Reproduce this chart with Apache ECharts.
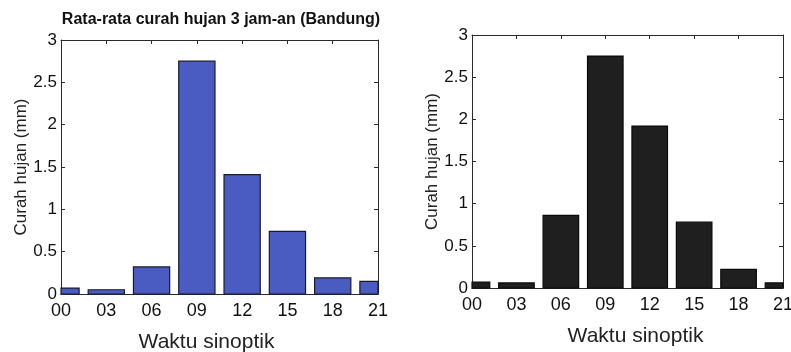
<!DOCTYPE html>
<html>
<head>
<meta charset="utf-8">
<script src="https://cdn.jsdelivr.net/npm/echarts@6/dist/echarts.min.js"></script>
<style>
html,body{margin:0;padding:0;background:#fff;}
#c{width:791px;height:352px;}
</style>
</head>
<body>
<div id="c"></div>
<script>
// Data
var categories = ['00','03','06','09','12','15','18','21'];
var bandungValues = [0.07, 0.05, 0.32, 2.75, 1.41, 0.74, 0.19, 0.15];
var secondValues  = [0.07, 0.06, 0.86, 2.75, 1.92, 0.78, 0.22, 0.06];
var yTicks = [0, 0.5, 1, 1.5, 2, 2.5, 3];
var titleText = 'Rata-rata curah hujan 3 jam-an (Bandung)';
var xName = 'Waktu sinoptik';
var yName = 'Curah hujan (mm)';

var hours = categories.map(function(c){ return parseInt(c, 10); });
function pairs(vals){ return hours.map(function(h, i){ return [h, vals[i]]; }); }
function xLabel(v){ var i = hours.indexOf(v); return i >= 0 ? categories[i] : ''; }
function yLabel(v){ return yTicks.indexOf(v) >= 0 ? String(v) : ''; }

var FONT = 'Liberation Sans, Arial, sans-serif';
var axisColor = '#2a2a2a';
var BAR_UNITS = 2.4; // bar width in axis units (0.8 of the 3-hour spacing)

function renderBar(params, api){
  var x = api.value(0), y = api.value(1);
  var p0 = api.coord([x, 0]);
  var p1 = api.coord([x, y]);
  var w = api.size([BAR_UNITS, 0])[0];
  var cs = params.coordSys;
  var rect = {x: p0[0] - w / 2, y: p1[1], width: w, height: p0[1] - p1[1]};
  var clipped = echarts.graphic.clipRectByRect(rect, {x: cs.x, y: cs.y, width: cs.width, height: cs.height});
  if (!clipped) return null;
  return {type: 'rect', shape: clipped, style: api.style()};
}

function xAxisPair(gridIndex, nameGap, pad, labelMargin){
  return [{
    gridIndex: gridIndex, type: 'value', min: 0, max: 21, interval: 3, position: 'bottom',
    name: xName, nameLocation: 'middle', nameGap: nameGap,
    nameTextStyle: {fontFamily: FONT, fontSize: 21, color: '#222', padding: pad},
    axisLine: {show: true, onZero: false, lineStyle: {color: axisColor, width: 1}},
    axisTick: {show: true, inside: true, length: 4, lineStyle: {color: axisColor}},
    axisLabel: {formatter: xLabel, fontFamily: FONT, fontSize: 18, color: '#111', margin: labelMargin},
    splitLine: {show: false}
  },{
    gridIndex: gridIndex, type: 'value', min: 0, max: 21, interval: 3, position: 'top',
    axisLine: {show: true, onZero: false, lineStyle: {color: axisColor, width: 1}},
    axisTick: {show: true, inside: true, length: 4, lineStyle: {color: axisColor}},
    axisLabel: {show: false}, splitLine: {show: false}
  }];
}
function yAxisPair(gridIndex, nameGap){
  return [{
    gridIndex: gridIndex, type: 'value', min: 0, max: 3, interval: 0.5, position: 'left',
    name: yName, nameLocation: 'middle', nameGap: nameGap,
    nameTextStyle: {fontFamily: FONT, fontSize: 17, color: '#222'},
    axisLine: {show: true, onZero: false, lineStyle: {color: axisColor, width: 1}},
    axisTick: {show: true, inside: true, length: 4, lineStyle: {color: axisColor}},
    axisLabel: {formatter: yLabel, fontFamily: FONT, fontSize: 17, color: '#111', margin: 4},
    splitLine: {show: false}
  },{
    gridIndex: gridIndex, type: 'value', min: 0, max: 3, interval: 0.5, position: 'right',
    axisLine: {show: true, onZero: false, lineStyle: {color: axisColor, width: 1}},
    axisTick: {show: true, inside: true, length: 4, lineStyle: {color: axisColor}},
    axisLabel: {show: false}, splitLine: {show: false}
  }];
}

var chart = echarts.init(document.getElementById('c'), null, {renderer: 'canvas'});
chart.setOption({
  backgroundColor: '#ffffff',
  animation: false,
  title: {
    text: titleText, left: 216, top: 7, textAlign: 'center',
    textStyle: {fontFamily: FONT, fontSize: 16, fontWeight: 'bold', color: '#111'}
  },
  grid: [
    {left: 61, top: 40, width: 317, height: 254, containLabel: false, outerBoundsMode: 'none'},
    {left: 472, top: 35, width: 311, height: 253, containLabel: false, outerBoundsMode: 'none'}
  ],
  xAxis: xAxisPair(0, 38, [0, 26, 0, 0], 8).concat(xAxisPair(1, 38, [0, 0, 0, 16], 8)),
  yAxis: yAxisPair(0, 31).concat(yAxisPair(1, 31)),
  series: [{
    type: 'custom', xAxisIndex: 0, yAxisIndex: 0, data: pairs(bandungValues),
    renderItem: renderBar,
    itemStyle: {color: '#4a5cc2', borderColor: '#1a1a2a', borderWidth: 1.2}
  },{
    type: 'custom', xAxisIndex: 2, yAxisIndex: 2, data: pairs(secondValues),
    renderItem: renderBar,
    itemStyle: {color: '#1f1f1f', borderColor: '#0a0a0a', borderWidth: 1.2}
  }]
});
</script>
</body>
</html>
